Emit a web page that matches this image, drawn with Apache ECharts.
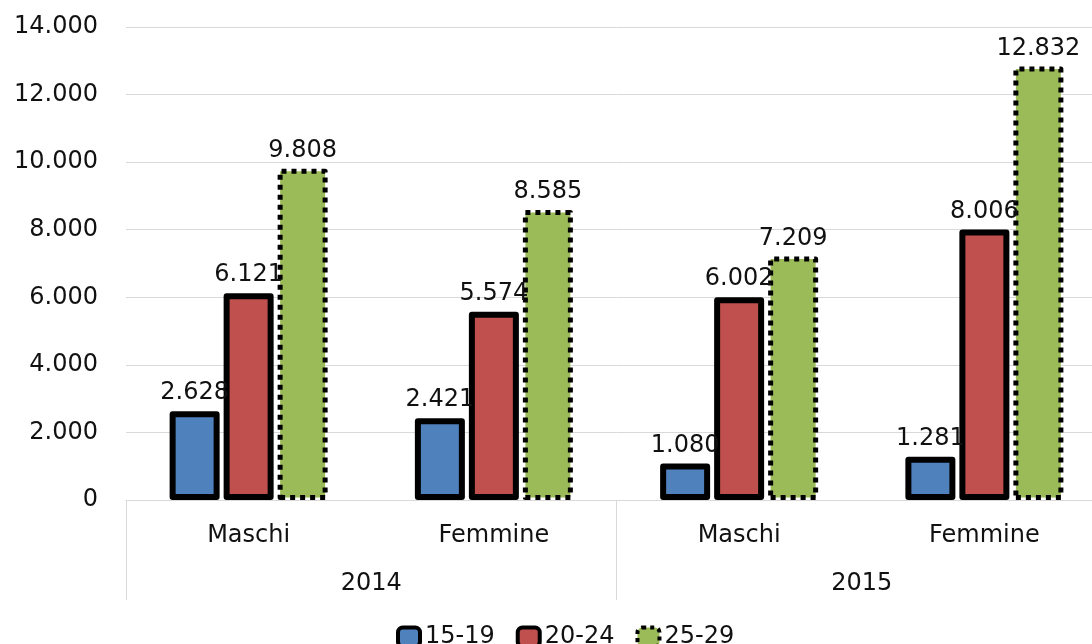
<!DOCTYPE html>
<html>
<head>
<meta charset="utf-8">
<script src="https://cdn.jsdelivr.net/npm/echarts@6/dist/echarts.min.js"></script>
<style>
    html, body { margin: 0; padding: 0; background: #fff; overflow: hidden; }
    /* plot runs past the right edge of the window, like the reference */
    #main { width: 1107px; height: 644px; }
</style>
</head>
<body>
<div id="main"></div>
<script>
// categories and values
const categories = ['Maschi', 'Femmine', 'Maschi', 'Femmine'];
const years = ['2014', '2015'];
const eta15_19 = [2628, 2421, 1080, 1281];
const eta20_24 = [6121, 5574, 6002, 8006];
const eta25_29 = [9808, 8585, 7209, 12832];

const fontFam = 'DejaVu Sans';

function fmtNum(v) {
    return String(v).replace(/\B(?=(\d{3})+(?!\d))/g, '.');
}

function makeSeries(name, data, color, dotted) {
    return {
        name: name,
        type: 'bar',
        data: data,
        barWidth: 50,
        barGap: '8%',
        itemStyle: {
            color: color,
            borderColor: '#000',
            borderWidth: dotted ? 5 : 6,
            borderType: dotted ? 'dotted' : 'solid',
            borderJoin: 'round'
        },
        label: {
            show: true,
            position: 'top',
            distance: 6,
            color: '#111',
            fontFamily: fontFam,
            fontSize: 24,
            formatter: function(p) { return fmtNum(p.value) }
        }
    };
}

var myChart = echarts.init(document.getElementById('main'));
var option = {
    animation: false,
    textStyle: { fontFamily: fontFam },
    grid: { left: 126, right: 0, top: 27, bottom: 144, containLabel: false },
    legend: {
        top: 620,
        left: 391,
        itemWidth: 22,
        itemHeight: 19,
        itemGap: 21,
        textStyle: { fontSize: 24, color: '#111', fontFamily: fontFam },
        data: [
            { name: '15-19', itemStyle: { borderWidth: 4, borderColor: '#000' } },
            { name: '20-24', itemStyle: { borderWidth: 4, borderColor: '#000' } },
            { name: '25-29', itemStyle: { borderWidth: 4, borderColor: '#000', borderType: 'dotted' } }
        ]
    },
    xAxis: [{
        type: 'category',
        data: categories,
        position: 'bottom',
        axisLine: { lineStyle: { color: '#d9d9d9', width: 1 } },
        axisTick: { show: false },
        axisLabel: { color: '#111', fontSize: 24, margin: 24, fontFamily: fontFam, interval: 0 }
    }, {
        type: 'category',
        data: years,
        position: 'bottom',
        axisLine: { show: false },
        axisTick: { show: true, length: 100, interval: 0, lineStyle: { color: '#d9d9d9' } },
        axisLabel: { color: '#111', fontSize: 24, margin: 72, fontFamily: fontFam, interval: 0 },
        splitLine: { show: false }
    }],
    yAxis: {
        type: 'value',
        min: 0,
        max: 14000,
        interval: 2000,
        axisLine: { show: false },
        axisTick: { show: false },
        splitLine: { lineStyle: { color: '#d9d9d9', width: 1 } },
        axisLabel: {
            color: '#111',
            fontSize: 24,
            margin: 28,
            fontFamily: fontFam,
            formatter: function(v) { return fmtNum(v) }
        }
    },
    series: [
        makeSeries('15-19', eta15_19, '#4F81BD', false),
        makeSeries('20-24', eta20_24, '#C0504D', false),
        makeSeries('25-29', eta25_29, '#9BBB59', true)
    ]
};
myChart.setOption(option);
</script>
</body>
</html>
